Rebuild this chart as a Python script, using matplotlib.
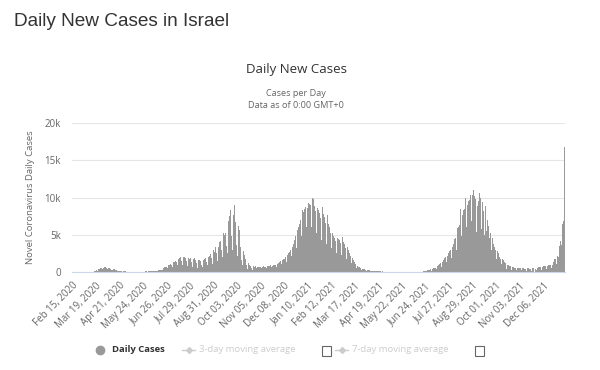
import numpy as np
import matplotlib.pyplot as plt
from matplotlib.lines import Line2D
from matplotlib.patches import Rectangle

plt.rcParams['font.family'] = ['Open Sans', 'DejaVu Sans']

# Daily new cases in Israel, one row per week, first row starts Sat Feb 15, 2020
daily_cases = [
    0, 0, 0, 0, 0, 0, 1,
    0, 0, 0, 0, 0, 1, 0,
    0, 0, 2, 2, 3, 5, 4,
    4, 8, 11, 17, 23, 25, 33,
    55, 38, 50, 74, 110, 160, 230,
    180, 240, 420, 340, 490, 540, 600,
    430, 600, 560, 650, 720, 770, 600,
    410, 520, 560, 540, 400, 470, 320,
    270, 380, 420, 340, 300, 290, 260,
    140, 230, 200, 170, 190, 150, 120,
    60, 110, 90, 80, 70, 80, 60,
    20, 40, 40, 30, 20, 30, 20,
    10, 20, 30, 20, 20, 15, 10,
    10, 15, 20, 15, 10, 15, 10,
    5, 20, 20, 30, 60, 110, 100,
    60, 110, 100, 130, 120, 110, 100,
    70, 140, 180, 160, 150, 170, 160,
    130, 240, 300, 310, 270, 300, 290,
    230, 400, 500, 610, 580, 700, 640,
    480, 760, 900, 1000, 960, 1100, 1000,
    700, 1200, 1350, 1400, 1300, 1500, 1300,
    900, 1650, 1750, 1850, 1700, 1950, 1500,
    900, 1750, 1950, 2050, 1800, 1900, 1450,
    800, 1600, 1900, 1750, 1800, 1850, 1300,
    700, 1500, 1800, 1850, 1700, 1650, 1200,
    600, 1450, 1650, 1600, 1650, 1500, 1000,
    700, 1400, 1600, 1700, 1800, 1900, 1350,
    900, 1700, 2000, 2100, 2250, 2450, 1850,
    1100, 2300, 2900, 2700, 3100, 3300, 2600,
    1500, 3500, 3400, 4000, 3800, 4200, 3000,
    2000, 4800, 5300, 5000, 5500, 5200, 3500,
    2500, 6100, 6900, 7500, 7800, 8300, 4800,
    3000, 8500, 7600, 9000, 7700, 6700, 3600,
    2100, 7300, 6200, 5600, 4300, 3300, 1600,
    1000, 3100, 2800, 2300, 1900, 1700, 900,
    450, 1500, 1200, 1000, 900, 800, 600,
    300, 750, 800, 700, 700, 750, 500,
    300, 650, 700, 650, 700, 650, 500,
    300, 700, 750, 700, 800, 700, 600,
    350, 800, 850, 750, 800, 900, 650,
    400, 850, 900, 900, 950, 1000, 700,
    500, 1100, 1200, 1300, 1400, 1500, 1100,
    700, 1600, 1700, 1800, 1900, 2000, 1400,
    1000, 2300, 2500, 2700, 2800, 2900, 2100,
    1500, 3300, 3800, 4300, 4600, 4800, 3200,
    2000, 5600, 6000, 6400, 6700, 7000, 4800,
    3000, 8300, 8000, 8400, 8600, 8700, 6000,
    4000, 8600, 9300, 9100, 9600, 9000, 6000,
    4300, 10000, 9800, 8800, 8800, 8200, 5200,
    3500, 8600, 8300, 7900, 7600, 7200, 4300,
    3200, 8700, 7800, 7400, 7000, 6600, 3800,
    2800, 7600, 6500, 6000, 5700, 5300, 3200,
    2300, 5200, 4800, 4600, 4400, 4100, 2500,
    1800, 4600, 4400, 4300, 4100, 3900, 2300,
    1600, 4700, 4000, 3700, 3500, 3200, 1800,
    1100, 3400, 2900, 2600, 2400, 2100, 1200,
    700, 1900, 1600, 1400, 1200, 1100, 600,
    350, 800, 700, 650, 600, 550, 300,
    200, 450, 400, 380, 340, 300, 180,
    120, 300, 250, 220, 200, 180, 100,
    80, 200, 180, 150, 130, 120, 70,
    50, 110, 90, 100, 80, 80, 40,
    30, 70, 60, 60, 50, 50, 30,
    20, 50, 40, 40, 30, 30, 20,
    15, 40, 30, 25, 30, 20, 15,
    10, 30, 25, 20, 20, 15, 10,
    5, 15, 15, 10, 10, 10, 5,
    5, 10, 10, 10, 5, 5, 5,
    5, 10, 10, 10, 5, 10, 5,
    5, 10, 15, 10, 15, 20, 10,
    20, 60, 110, 130, 130, 170, 100,
    90, 250, 300, 300, 290, 370, 200,
    150, 450, 500, 470, 560, 600, 400,
    300, 800, 900, 1000, 1100, 1200, 700,
    600, 1400, 1600, 1800, 1900, 2000, 1300,
    1000, 2200, 2500, 2700, 2800, 2900, 1900,
    1500, 3400, 3700, 4000, 4400, 4600, 3000,
    2000, 5900, 6100, 5600, 6300, 8500, 4800,
    3000, 7600, 8300, 8000, 8400, 9900, 6000,
    3800, 9000, 9500, 9700, 9600, 10300, 6800,
    4500, 10300, 11000, 11200, 10200, 9800, 5400,
    3500, 8800, 9500, 10800, 10600, 10000, 5800,
    3600, 9400, 8200, 6000, 5000, 8800, 5500,
    2800, 7000, 6200, 5500, 4500, 5200, 3000,
    1800, 4500, 3800, 3600, 3300, 3000, 1700,
    1200, 2800, 2600, 2300, 2000, 1800, 1100,
    700, 1700, 1600, 1400, 1300, 1200, 700,
    400, 1000, 950, 900, 850, 800, 450,
    300, 700, 650, 600, 550, 550, 350,
    250, 600, 550, 500, 500, 480, 300,
    220, 550, 500, 480, 460, 450, 280,
    200, 500, 480, 450, 440, 420, 260,
    200, 520, 500, 30, 20, 450, 300,
    250, 600, 650, 700, 650, 700, 400,
    300, 700, 750, 800, 750, 800, 450,
    350, 800, 900, 850, 900, 1000, 600,
    500, 1000, 1300, 1400, 1800, 1700, 1100,
    1100, 2100, 2000, 2500, 3500, 4200, 5600,
    3600, 6500, 6800, 10600, 16800,
]

tick_labels = ["Feb 15, 2020", "Mar 19, 2020", "Apr 21, 2020", "May 24, 2020",
               "Jun 26, 2020", "Jul 29, 2020", "Aug 31, 2020", "Oct 03, 2020",
               "Nov 05, 2020", "Dec 08, 2020", "Jan 10, 2021", "Feb 12, 2021",
               "Mar 17, 2021", "Apr 19, 2021", "May 22, 2021", "Jun 24, 2021",
               "Jul 27, 2021", "Aug 29, 2021", "Oct 01, 2021", "Nov 03, 2021",
               "Dec 06, 2021"]
y_ticks = [0, 5000, 10000, 15000, 20000]
y_tick_labels = ["0", "5k", "10k", "15k", "20k"]

W, H = 600, 370
fig = plt.figure(figsize=(6, 3.7), dpi=100)
ax = fig.add_axes([72 / W, 1 - 272 / H, (565 - 72) / W, (272 - 123) / H])

days = np.arange(len(daily_cases))
ax.bar(days, daily_cases, width=1.0, color='#999999', linewidth=0)

ax.set_xlim(-0.5, len(daily_cases) - 0.5)
ax.set_ylim(0, 20000)
ax.set_yticks(y_ticks, y_tick_labels)
ax.set_xticks(days[::33][:len(tick_labels)], tick_labels,
              rotation=45, ha='right', rotation_mode='anchor')
ax.yaxis.grid(True, color='#e6e6e6', linewidth=0.8)
ax.set_axisbelow(True)
for side in ['top', 'right', 'left']:
    ax.spines[side].set_visible(False)
ax.spines['bottom'].set_color('#ccd6eb')
ax.spines['bottom'].set_linewidth(0.8)
ax.tick_params(axis='y', length=0, pad=8, labelsize=7, labelcolor='#666666')
ax.tick_params(axis='x', length=0, pad=6, labelsize=7, labelcolor='#666666')

# titles
fig.text(14 / W, 1 - 21 / H, "Daily New Cases in Israel", family='Liberation Sans',
         fontsize=13.7, color='#333333', va='center', ha='left')
fig.text(296 / W, 1 - 70 / H, "Daily New Cases", fontsize=9.5,
         color='#333333', ha='center', va='center')
fig.text(296 / W, 1 - 93 / H, "Cases per Day", fontsize=6.6,
         color='#666666', ha='center', va='center')
fig.text(296 / W, 1 - 105 / H, "Data as of 0:00 GMT+0", fontsize=6.6,
         color='#666666', ha='center', va='center')
fig.text(31 / W, 1 - 197 / H, "Novel Coronavirus Daily Cases", fontsize=6.8,
         color='#666666', rotation=90, ha='center', va='center')

# legend
ly = 1 - 350 / H
fig.add_artist(Line2D([100 / W], [ly], marker='o', markersize=6, color='#999999',
                      transform=fig.transFigure))
fig.text(112 / W, ly, "Daily Cases", fontsize=6.8, fontweight='bold',
         color='#333333', va='center')
for x0, label, box in [(182, "3-day moving average", 322), (335, "7-day moving average", 475)]:
    fig.add_artist(Line2D([x0 / W, (x0 + 13) / W], [ly, ly], color='#cccccc', lw=1,
                          transform=fig.transFigure))
    fig.add_artist(Line2D([(x0 + 6.5) / W], [ly], marker='D', markersize=3,
                          color='#cccccc', transform=fig.transFigure))
    fig.text((x0 + 17) / W, ly, label, fontsize=6.8, color='#cccccc', va='center')
    fig.add_artist(Rectangle((box / W, 1 - 356 / H), 9 / W, 10 / H, fill=False,
                             edgecolor='#666666', lw=0.8, transform=fig.transFigure))

fig.savefig('out.png', dpi=100)
